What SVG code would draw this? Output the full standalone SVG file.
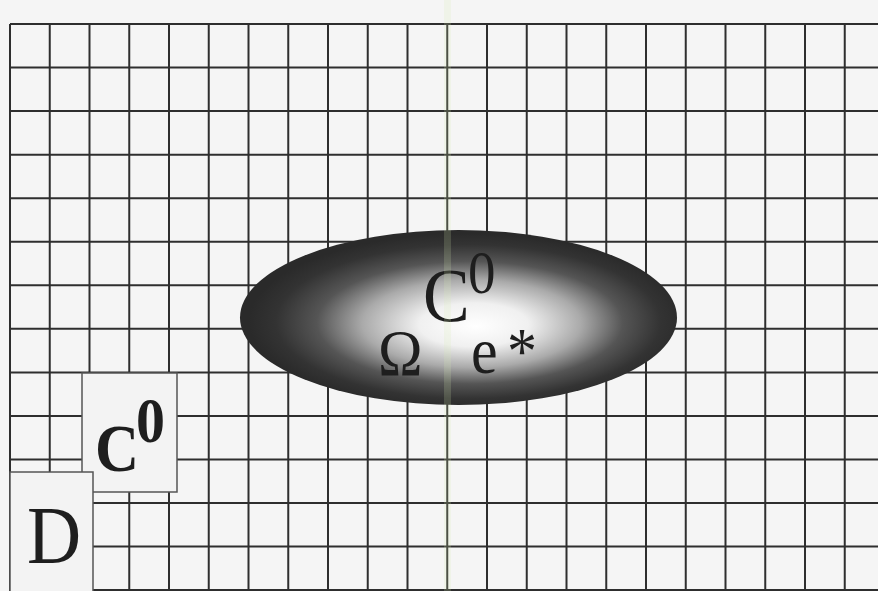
<svg xmlns="http://www.w3.org/2000/svg" width="878" height="591" viewBox="0 0 878 591">
  <style>
    .grid line { stroke: #2e2e2e; stroke-width: 2; }
    .box { fill: #f3f3f3; stroke: #555; stroke-width: 1.5; }
    .serif { font-family: "Liberation Serif", "Times New Roman", serif; fill: #1e1e1e; }
    .bold { font-weight: bold; }
  </style>
  <defs>
    <radialGradient id="shade" cx="0.52" cy="0.52" r="0.5" fx="0.54" fy="0.55">
      <stop offset="0" stop-color="#ffffff"/>
      <stop offset="0.25" stop-color="#f0f0f0"/>
      <stop offset="0.5" stop-color="#aaaaaa"/>
      <stop offset="0.7" stop-color="#555555"/>
      <stop offset="0.88" stop-color="#333333"/>
      <stop offset="1" stop-color="#2a2a2a"/>
    </radialGradient>
  </defs>
  <rect width="878" height="591" fill="#f5f5f5"/>
  <g id="grid" class="grid">
    <line x1="10" y1="24" x2="10" y2="591"/>
    <line x1="49.75" y1="24" x2="49.75" y2="591"/>
    <line x1="89.5" y1="24" x2="89.5" y2="591"/>
    <line x1="129.25" y1="24" x2="129.25" y2="591"/>
    <line x1="169" y1="24" x2="169" y2="591"/>
    <line x1="208.75" y1="24" x2="208.75" y2="591"/>
    <line x1="248.5" y1="24" x2="248.5" y2="591"/>
    <line x1="288.25" y1="24" x2="288.25" y2="591"/>
    <line x1="328" y1="24" x2="328" y2="591"/>
    <line x1="367.75" y1="24" x2="367.75" y2="591"/>
    <line x1="407.5" y1="24" x2="407.5" y2="591"/>
    <line x1="447.25" y1="24" x2="447.25" y2="591"/>
    <line x1="487" y1="24" x2="487" y2="591"/>
    <line x1="526.75" y1="24" x2="526.75" y2="591"/>
    <line x1="566.5" y1="24" x2="566.5" y2="591"/>
    <line x1="606.25" y1="24" x2="606.25" y2="591"/>
    <line x1="646" y1="24" x2="646" y2="591"/>
    <line x1="685.75" y1="24" x2="685.75" y2="591"/>
    <line x1="725.5" y1="24" x2="725.5" y2="591"/>
    <line x1="765.25" y1="24" x2="765.25" y2="591"/>
    <line x1="805" y1="24" x2="805" y2="591"/>
    <line x1="844.75" y1="24" x2="844.75" y2="591"/>
    <line x1="10" y1="24" x2="878" y2="24"/>
    <line x1="10" y1="67.55" x2="878" y2="67.55"/>
    <line x1="10" y1="111.1" x2="878" y2="111.1"/>
    <line x1="10" y1="154.65" x2="878" y2="154.65"/>
    <line x1="10" y1="198.2" x2="878" y2="198.2"/>
    <line x1="10" y1="241.75" x2="878" y2="241.75"/>
    <line x1="10" y1="285.3" x2="878" y2="285.3"/>
    <line x1="10" y1="328.85" x2="878" y2="328.85"/>
    <line x1="10" y1="372.4" x2="878" y2="372.4"/>
    <line x1="10" y1="415.95" x2="878" y2="415.95"/>
    <line x1="10" y1="459.5" x2="878" y2="459.5"/>
    <line x1="10" y1="503.05" x2="878" y2="503.05"/>
    <line x1="10" y1="546.6" x2="878" y2="546.6"/>
    <line x1="10" y1="590" x2="878" y2="590"/>
  </g>
  <g id="omega-set">
    <ellipse cx="458.5" cy="317.5" rx="218.5" ry="87.5" fill="url(#shade)"/>
    <text class="serif" font-size="70" transform="translate(423,321) scale(1,1.1)">C</text>
    <text class="serif" font-size="55" transform="translate(468,293) scale(1,1.1)">0</text>
    <text class="serif" font-size="60" transform="translate(378,375) scale(1,1.1)">Ω</text>
    <text class="serif" font-size="60" transform="translate(471,373) scale(1,1.1)">e</text>
    <text class="serif" font-size="60" transform="translate(507,373) scale(1,1.1)">*</text>
  </g>
  <g id="c0-box">
    <rect class="box" x="82" y="373" width="95" height="119"/>
    <text class="serif bold" font-size="61" transform="translate(95,471) scale(1,1.1)">C</text>
    <text class="serif bold" font-size="58" transform="translate(136,442) scale(1,1.1)">0</text>
  </g>
  <g id="d-box">
    <rect class="box" x="10" y="472" width="83" height="125"/>
    <text class="serif" font-size="75" transform="translate(27,563) scale(1,1.1)">D</text>
  </g>
  <g id="connectors"/>
  <rect x="444" y="0" width="7" height="591" fill="#d6efb0" opacity="0.18"/>
</svg>
